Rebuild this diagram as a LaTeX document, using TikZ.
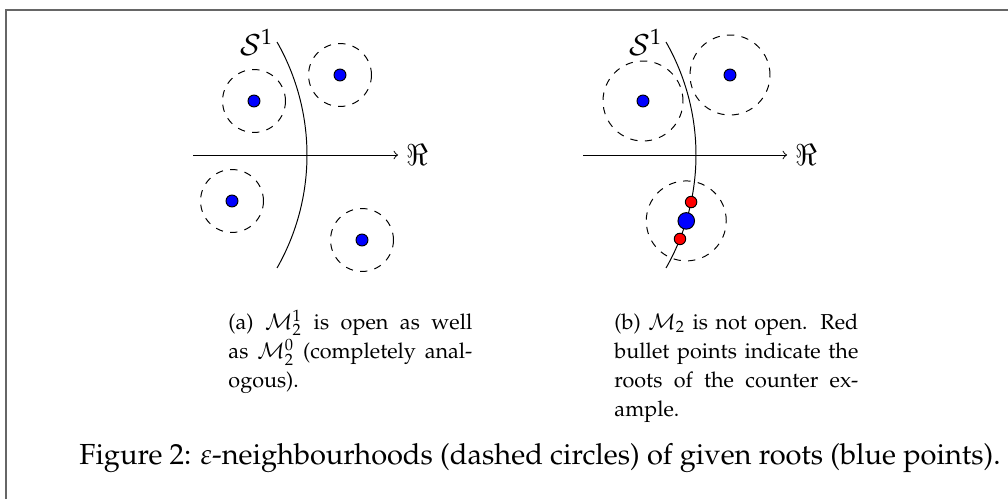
\documentclass[tikz,border=0pt]{standalone}
\usepackage[T1]{fontenc}
\usepackage{mathpazo}
\usetikzlibrary{positioning}

\newlength{\capwidth}
\setlength{\capwidth}{100pt}
\newcommand{\jline}[1]{\makebox[\capwidth][s]{#1}}

\tikzset{
  root/.style={circle, draw, fill=blue, inner sep=0pt, minimum size=4.9pt},
  bigroot/.style={root, minimum size=6.8pt},
  badroot/.style={root, fill=red, minimum size=4.7pt},
  nbh/.style={circle, draw, dashed, inner sep=0pt},
  subcap/.style={anchor=base west, inner sep=0pt, text width=\capwidth, align=justify,
    font=\fontsize{8.85}{11.9}\selectfont}
}

\begin{document}
\begin{tikzpicture}[x=0.41pt, y=-0.41pt, >=to, font=\fontsize{11.9}{14.5}\selectfont]
	\useasboundingbox (0,0) rectangle (1008,499);
	\draw[black!60, line width=0.8pt] (6,499) -- (6,10) -- (1008,10);
	\begin{scope}
		\coordinate (cA) at (79,155);
		\node[nbh, minimum size=25.8pt] (nA1) at (254,101) {};
		\node[nbh, minimum size=25.8pt] (nA2) at (340,75) {};
		\node[nbh, minimum size=25.8pt] (nA3) at (232,201) {};
		\node[nbh, minimum size=25.8pt] (nA4) at (362,240) {};
		\draw ([shift={(-29.7:228)}]cA) node[left, xshift=2pt] (sA) {$\mathcal{S}^1$}
			arc[start angle=-29.7, end angle=29.7, radius=228];
		\coordinate (axA) at (193,155);
		\coordinate (axAend) at (398,155);
		\draw[->] (axA) -- (axAend);
		\node[right] (reA) at (axAend) {$\Re$};
		\node[root] (rA1) at (nA1) {};
		\node[root] (rA2) at (nA2) {};
		\node[root] (rA3) at (nA3) {};
		\node[root] (rA4) at (nA4) {};
	\end{scope}
	\begin{scope}[shift={(389,0)}]
		\coordinate (cB) at (79,155);
		\node[nbh, minimum size=32.8pt] (nB1) at (254,101) {};
		\node[nbh, minimum size=32.8pt] (nB2) at (341,75) {};
		\node[nbh, minimum size=32.8pt] (nB3) at ([shift={(16.8:228)}]cB) {};
		\draw ([shift={(-29.7:228)}]cB) node[left, xshift=2pt] (sB) {$\mathcal{S}^1$}
			arc[start angle=-29.7, end angle=29.7, radius=228];
		\coordinate (axB) at (194,155);
		\coordinate (axBend) at (398,155);
		\draw[->] (axB) -- (axBend);
		\node[right] (reB) at (axBend) {$\Re$};
		\node[root] (rB1) at (nB1) {};
		\node[root] (rB2) at (nB2) {};
		\node[bigroot] (rB3) at (nB3) {};
		\node[badroot] (xB1) at ([shift={(11.9:228)}]cB) {};
		\node[badroot] (xB2) at ([shift={(21.6:228)}]cB) {};
	\end{scope}
	\node[subcap] (capA) at (228,329)
		{\jline{(a) $\mathcal{M}_2^1$ is open as well}\\ \jline{as $\mathcal{M}_2^0$ (completely anal-}\\ ogous).};
	\node[subcap] (capB) at (614,329)
		{\jline{(b) $\mathcal{M}_2$ is not open. Red}\\ \jline{bullet points indicate the}\\ \jline{roots of the counter ex-}\\ ample.};
	\node[anchor=base] (fig) at (540,464)
		{Figure 2: $\varepsilon$-neighbourhoods (dashed circles) of given roots (blue points).};
\end{tikzpicture}
\end{document}
